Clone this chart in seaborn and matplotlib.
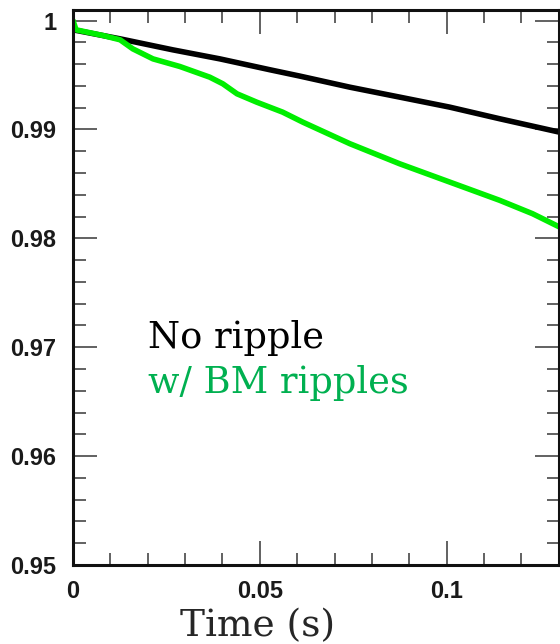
import numpy as np
import pandas as pd
import matplotlib
matplotlib.use("Agg")
import matplotlib.pyplot as plt
import seaborn as sns
from matplotlib.ticker import MultipleLocator

# ---- data ----
t_noripple = [0.0, 0.0126, 0.0267, 0.0393, 0.0527, 0.0607, 0.0741, 0.0874, 0.1008, 0.1142, 0.1302]
v_noripple = [0.99915, 0.99832, 0.99731, 0.99648, 0.99548, 0.99490, 0.99388, 0.99297, 0.99205, 0.99098, 0.98975]

t_bm = [0.0, 0.0008, 0.0081, 0.0126, 0.016, 0.0214, 0.0286, 0.0366, 0.0401, 0.0439, 0.0492,
        0.0561, 0.0615, 0.0741, 0.0874, 0.1008, 0.1142, 0.123, 0.1302]
v_bm = [1.0, 0.99915, 0.99862, 0.99823, 0.9974, 0.99648, 0.99578, 0.9948, 0.99419, 0.99327, 0.9925,
        0.99159, 0.99067, 0.98869, 0.98685, 0.98517, 0.98349, 0.98226, 0.98104]

series_labels = ["No ripple", "w/ BM ripples"]
x_ticks = [0, 0.05, 0.1]
x_tick_labels = ["0", "0.05", "0.1"]
y_ticks = [0.95, 0.96, 0.97, 0.98, 0.99, 1.0]
y_tick_labels = ["0.95", "0.96", "0.97", "0.98", "0.99", "1"]

df = pd.concat([
    pd.DataFrame({"t": t_noripple, "v": v_noripple, "s": series_labels[0]}),
    pd.DataFrame({"t": t_bm, "v": v_bm, "s": series_labels[1]}),
])

sns.set_style("ticks")
plt.rcParams["font.family"] = ["Liberation Sans", "DejaVu Sans"]
serif = ["DejaVu Serif", "Liberation Serif"]

fig = plt.figure(figsize=(5.6, 6.44), dpi=100)
ax = fig.add_axes([0.1304, 0.1227, 0.8696 - 0.001, 0.8618])

sns.lineplot(data=df, x="t", y="v", hue="s", palette=["#000000", "#00ee00"],
             linewidth=4, ax=ax, legend=False, sort=False, estimator=None)

ax.set_xlim(0, 0.1302)
ax.set_ylim(0.95, 1.00097)

ax.set_xticks(x_ticks)
ax.set_xticklabels(x_tick_labels)
ax.set_yticks(y_ticks)
ax.set_yticklabels(y_tick_labels)
ax.xaxis.set_minor_locator(MultipleLocator(0.01))
ax.yaxis.set_minor_locator(MultipleLocator(0.002))

ax.tick_params(which="both", direction="in", top=True, right=True, color="#555555", width=1.3)
ax.tick_params(which="major", length=17)
ax.tick_params(which="minor", length=9)
ax.tick_params(axis="y", which="major", pad=12)
ax.tick_params(axis="x", which="major", pad=11)
for lab in ax.get_xticklabels() + ax.get_yticklabels():
    lab.set_fontsize(17)
    lab.set_fontweight("bold")
    lab.set_color("#1a1a1a")

for sp in ax.spines.values():
    sp.set_linewidth(2.2)
    sp.set_color("#111111")

ax.set_xlabel("Time (s)", family=serif, fontsize=27)
ax.xaxis.label.set_va("baseline")
ax.xaxis.set_label_coords(0.0495 / 0.1302, (565 - 636) / 555)
ax.set_ylabel("")

ax.text(0.02, 0.9699, series_labels[0], family=serif,
        fontsize=26.5, color="black", va="baseline", ha="left")
ax.text(0.02, 0.96578, series_labels[1], family=serif,
        fontsize=26.5, color="#00b050", va="baseline", ha="left")

fig.savefig("out.png", dpi=100)
